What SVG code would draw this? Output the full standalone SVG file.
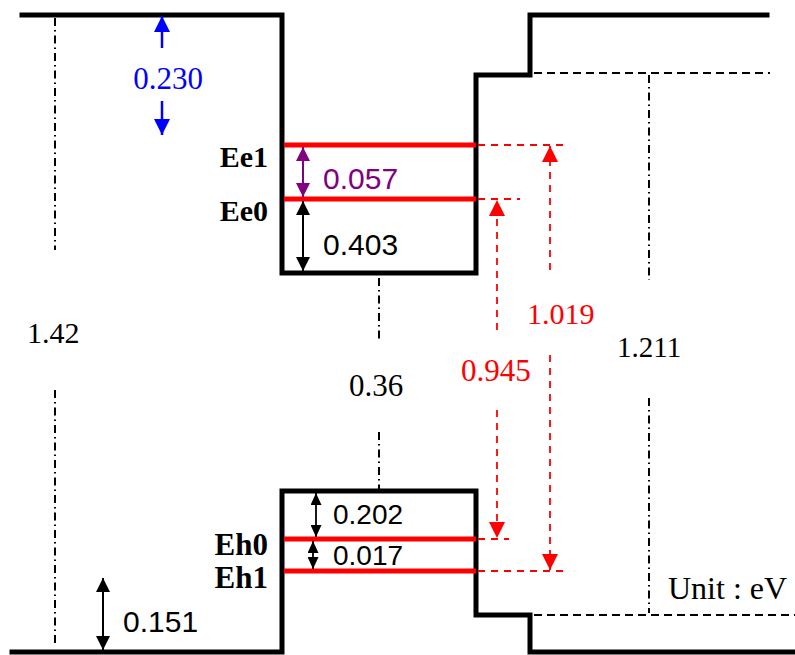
<svg xmlns="http://www.w3.org/2000/svg" width="795" height="655" viewBox="0 0 795 655">
<style>
.band{fill:none;stroke:#000;stroke-width:5;stroke-linejoin:miter;stroke-linecap:square}
.lvl{stroke:#ff0000;stroke-width:5}
.rdash{fill:none;stroke:#ff0000;stroke-width:1.8;stroke-dasharray:7,6}
.bdash{fill:none;stroke:#000;stroke-width:1.8;stroke-dasharray:8,5}
.dd{fill:none;stroke:#000;stroke-width:2;stroke-dasharray:8,4,1.5,4}
.serif{font-family:"Liberation Serif","Times New Roman",serif}
.sans{font-family:"Liberation Sans",Arial,sans-serif}
</style>
<defs>
<marker id="hk" markerUnits="userSpaceOnUse" markerWidth="14" markerHeight="14" viewBox="0 0 14 14" refX="14" refY="7" orient="auto-start-reverse"><path d="M0,0 L14,7 L0,14 z" fill="#000"/></marker>
<marker id="hks" markerUnits="userSpaceOnUse" markerWidth="12" markerHeight="11" viewBox="0 0 12 11" refX="12" refY="5.5" orient="auto-start-reverse"><path d="M0,0 L12,5.5 L0,11 z" fill="#000"/></marker>
<marker id="hp" markerUnits="userSpaceOnUse" markerWidth="14" markerHeight="14" viewBox="0 0 14 14" refX="14" refY="7" orient="auto-start-reverse"><path d="M0,0 L14,7 L0,14 z" fill="#800080"/></marker>
<marker id="hb" markerUnits="userSpaceOnUse" markerWidth="16" markerHeight="16" viewBox="0 0 16 16" refX="16" refY="8" orient="auto-start-reverse"><path d="M0,0 L16,8 L0,16 z" fill="#0000ff"/></marker>
<marker id="hr" markerUnits="userSpaceOnUse" markerWidth="16" markerHeight="16" viewBox="0 0 16 16" refX="16" refY="8" orient="auto-start-reverse"><path d="M0,0 L16,8 L0,16 z" fill="#ff0000"/></marker>
</defs>

<g id="conduction-band">
<path class="band" d="M22,15 H282 V273 H476 V75 H530 V15 H767"/>
<line class="bdash" x1="534" y1="73" x2="770" y2="73"/>
</g>

<g id="valence-band">
<path class="band" d="M12,652 H282 V491 H476 V615 H530 V652 H797"/>
<line class="bdash" x1="534" y1="615" x2="795" y2="615"/>
</g>

<g id="levels">
<line class="lvl" x1="284" y1="145" x2="476" y2="145"/>
<line class="lvl" x1="284" y1="199" x2="476" y2="199"/>
<line class="lvl" x1="284" y1="539" x2="476" y2="539"/>
<line class="lvl" x1="284" y1="571" x2="476" y2="571"/>
<text class="serif" x="268" y="167" font-size="30" font-weight="bold" text-anchor="end">Ee1</text>
<text class="serif" x="268" y="221" font-size="30" font-weight="bold" text-anchor="end">Ee0</text>
<text class="serif" x="268" y="555" font-size="31" font-weight="bold" text-anchor="end">Eh0</text>
<text class="serif" x="268" y="588" font-size="31" font-weight="bold" text-anchor="end">Eh1</text>
</g>

<g id="connectors">
<!-- dash-dot gap lines -->
<line class="dd" x1="55" y1="18" x2="55" y2="250"/>
<line class="dd" x1="55" y1="390" x2="55" y2="646"/>
<line class="dd" x1="379" y1="278" x2="379" y2="339"/>
<line class="dd" x1="379" y1="432" x2="379" y2="489"/>
<line class="dd" x1="649" y1="75" x2="649" y2="280"/>
<line class="dd" x1="649" y1="398" x2="649" y2="613"/>

<!-- blue 0.230 -->
<line x1="162" y1="48" x2="162" y2="16" stroke="#0000ff" stroke-width="2.5" marker-end="url(#hb)"/>
<line x1="162" y1="101" x2="162" y2="135" stroke="#0000ff" stroke-width="2.5" marker-end="url(#hb)"/>

<!-- purple 0.057 -->
<line x1="303" y1="147" x2="303" y2="197" stroke="#800080" stroke-width="2" marker-start="url(#hp)" marker-end="url(#hp)"/>
<!-- black 0.403 -->
<line x1="303" y1="201" x2="303" y2="271" stroke="#000" stroke-width="2" marker-start="url(#hk)" marker-end="url(#hk)"/>
<!-- black 0.202 -->
<line x1="316" y1="493" x2="316" y2="537" stroke="#000" stroke-width="1.8" marker-start="url(#hks)" marker-end="url(#hks)"/>
<!-- black 0.017 -->
<line x1="313" y1="541" x2="313" y2="569" stroke="#000" stroke-width="1.8" marker-start="url(#hks)" marker-end="url(#hks)"/>
<!-- black 0.151 -->
<line x1="103" y1="578" x2="103" y2="650" stroke="#000" stroke-width="2" marker-start="url(#hk)" marker-end="url(#hk)"/>

<!-- red transitions -->
<line class="rdash" x1="478" y1="145" x2="563" y2="145"/>
<line class="rdash" x1="478" y1="199" x2="520" y2="199"/>
<line class="rdash" x1="478" y1="539" x2="509" y2="539"/>
<line class="rdash" x1="478" y1="571" x2="563" y2="571"/>
<line class="rdash" x1="497" y1="330" x2="497" y2="200" marker-end="url(#hr)"/>
<line class="rdash" x1="497" y1="410" x2="497" y2="538" marker-end="url(#hr)"/>
<line class="rdash" x1="550" y1="270" x2="550" y2="146" marker-end="url(#hr)"/>
<line class="rdash" x1="550" y1="355" x2="550" y2="570" marker-end="url(#hr)"/>
</g>

<g id="labels">
<text class="serif" x="168" y="89" font-size="31" fill="#0000ff" text-anchor="middle">0.230</text>
<text class="sans" x="323" y="189" font-size="30" fill="#800080">0.057</text>
<text class="sans" x="323" y="255" font-size="30" fill="#000">0.403</text>
<text class="sans" x="333" y="524" font-size="28" fill="#000">0.202</text>
<text class="sans" x="333" y="565" font-size="28" fill="#000">0.017</text>
<text class="sans" x="123" y="632" font-size="30" fill="#000">0.151</text>
<text class="serif" x="27" y="343" font-size="30" fill="#000">1.42</text>
<text class="serif" x="349" y="396" font-size="31" fill="#000">0.36</text>
<text class="serif" x="617" y="357" font-size="29" fill="#000">1.211</text>
<text class="serif" x="461" y="381" font-size="31" fill="#ff0000">0.945</text>
<text class="serif" x="527" y="324" font-size="30" fill="#ff0000">1.019</text>
<text class="serif" x="668" y="599" font-size="32" fill="#000">Unit : eV</text>
</g>
</svg>
